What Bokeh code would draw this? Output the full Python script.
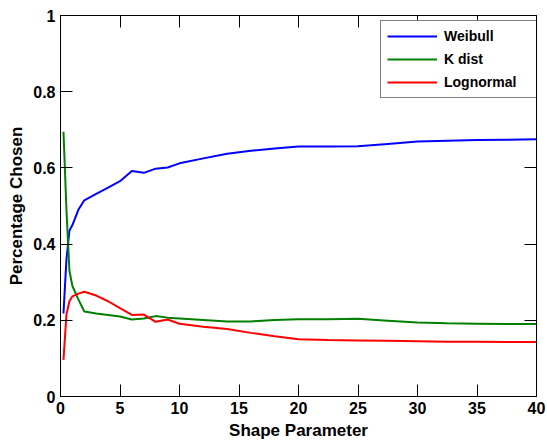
from bokeh.plotting import figure
from bokeh.models import (LinearAxis, FixedTicker, NumeralTickFormatter, Legend,
                          LegendItem, Range1d, CustomJSTickFormatter)
from bokeh.embed import file_html
from bokeh.resources import INLINE

# ---- data ----
shape = [0.25, 0.5, 0.75, 1, 1.5, 2, 3, 4, 5, 6, 7, 8, 9, 10, 12, 14, 16, 18, 20,
         22.5, 25, 27.5, 30, 32.5, 35, 37.5, 40]
weibull = [0.218, 0.36, 0.435, 0.45, 0.49, 0.515, 0.532, 0.548, 0.565, 0.592, 0.587,
           0.598, 0.601, 0.612, 0.625, 0.637, 0.645, 0.651, 0.656, 0.656, 0.657,
           0.663, 0.669, 0.671, 0.673, 0.674, 0.675]
kdist = [0.695, 0.49, 0.33, 0.29, 0.255, 0.223, 0.218, 0.214, 0.21, 0.202, 0.205,
         0.211, 0.207, 0.205, 0.201, 0.197, 0.197, 0.201, 0.203, 0.203, 0.204,
         0.199, 0.194, 0.192, 0.191, 0.19, 0.19]
lognormal = [0.096, 0.215, 0.25, 0.263, 0.27, 0.275, 0.265, 0.25, 0.232, 0.214, 0.215,
             0.196, 0.202, 0.191, 0.183, 0.177, 0.167, 0.158, 0.15, 0.148, 0.147,
             0.146, 0.145, 0.144, 0.144, 0.143, 0.143]
x_ticks = [0, 5, 10, 15, 20, 25, 30, 35, 40]
y_ticks = [0, 0.2, 0.4, 0.6, 0.8, 1]
series_names = ["Weibull", "K dist", "Lognormal"]

FONT = "Liberation Sans"

p = figure(frame_width=476, frame_height=381, x_range=Range1d(0, 40), y_range=Range1d(0, 1),
           output_backend="svg", toolbar_location=None,
           min_border_left=60, min_border_right=10, min_border_top=15, min_border_bottom=48,
           background_fill_color="white", border_fill_color="white")
p.xgrid.visible = False
p.ygrid.visible = False
p.outline_line_color = "black"
p.outline_line_alpha = 1.0


def style_axis(ax, labels=True):
    ax.major_tick_in = 12
    ax.major_tick_out = 0
    ax.minor_tick_line_color = None
    ax.axis_line_color = "black"
    ax.major_tick_line_color = "black"
    if labels:
        ax.major_label_text_font = FONT
        ax.major_label_text_font_style = "bold"
        ax.major_label_text_font_size = "16px"
        ax.major_label_text_color = "black"
        ax.major_label_standoff = 5
        ax.axis_label_text_font = FONT
        ax.axis_label_text_font_style = "bold"
        ax.axis_label_text_font_size = "17px"
        ax.axis_label_text_color = "black"
        ax.axis_label_standoff = 4
    else:
        ax.formatter = CustomJSTickFormatter(code="return '';")
        ax.major_label_standoff = 0


p.xaxis.ticker = FixedTicker(ticks=x_ticks)
p.yaxis.ticker = FixedTicker(ticks=y_ticks)
p.yaxis.formatter = NumeralTickFormatter(format="0.[0]")
p.xaxis.axis_label = "Shape Parameter"
p.yaxis.axis_label = "Percentage Chosen"
style_axis(p.xaxis[0])
style_axis(p.yaxis[0])

top_ax = LinearAxis(ticker=FixedTicker(ticks=x_ticks))
right_ax = LinearAxis(ticker=FixedTicker(ticks=y_ticks))
style_axis(top_ax, labels=False)
style_axis(right_ax, labels=False)
p.add_layout(top_ax, "above")
p.add_layout(right_ax, "right")

colors = ["blue", "green", "red"]
renderers = []
for vals, c in zip([weibull, kdist, lognormal], colors):
    r = p.line(shape, vals, line_color=c, line_width=2)
    renderers.append(r)

legend = Legend(items=[LegendItem(label=n, renderers=[r]) for n, r in zip(series_names, renderers)],
                location=(320, 298), margin=0, padding=6, spacing=5,
                glyph_width=50, glyph_height=18, label_height=18, label_width=89,
                label_standoff=7,
                label_text_font=FONT, label_text_font_style="bold",
                label_text_font_size="14px", label_text_color="black",
                border_line_color="black", border_line_width=1,
                background_fill_color="white", background_fill_alpha=1.0)
p.add_layout(legend)

open("out.html", "w").write(file_html(p, INLINE))
